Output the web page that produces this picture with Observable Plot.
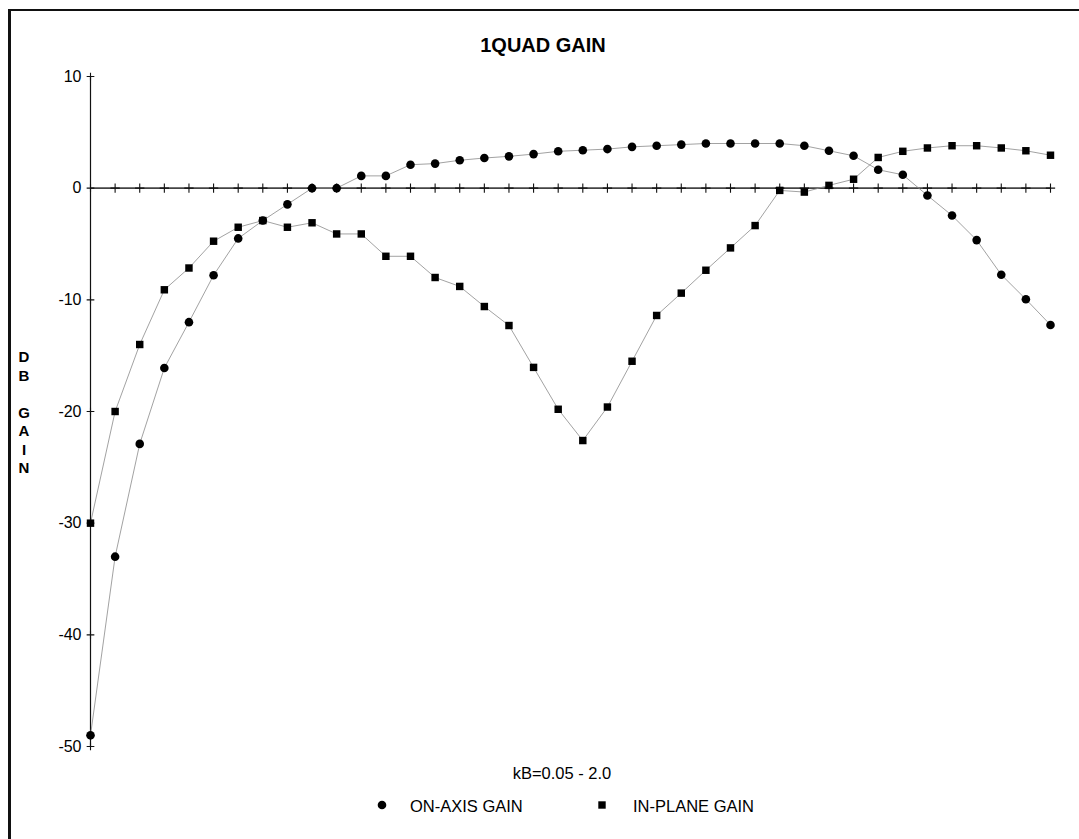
<!DOCTYPE html>
<html>
<head>
<meta charset="utf-8">
<script src="https://cdn.jsdelivr.net/npm/d3@7"></script>
<script src="https://cdn.jsdelivr.net/npm/@observablehq/plot@0.6"></script>
<style>
  html, body { margin: 0; padding: 0; background: #fff; overflow: hidden; }
  #page { position: relative; width: 1079px; height: 839px; overflow: hidden; background: #fff;
          font-family: "Liberation Sans", Arial, sans-serif; color: #000; }
  #frame { position: absolute; left: 8px; top: 9px; width: 1100px; height: 900px;
           border-top: 2px solid #111; border-left: 3px solid #111; }
  #chart { position: absolute; left: 0; top: 0; }
  .txt { position: absolute; line-height: 1; white-space: nowrap; }
  #title { left: 0; width: 1086px; text-align: center; top: 35px; font-size: 20px; font-weight: bold; }
  #xlabel { left: 462px; width: 200px; text-align: center; top: 765px; font-size: 16.5px; }
  #ylabel { position: absolute; left: 13px; width: 22px; top: 348px; font-size: 15px; font-weight: bold;
            line-height: 18.5px; text-align: center; }
  .legtxt { top: 798px; font-size: 16.5px; }
  .legsym { position: absolute; }
</style>
</head>
<body>
<div id="page">
  <div id="frame"></div>
  <div id="chart"></div>
  <div id="title" class="txt">1QUAD GAIN</div>
  <div id="ylabel">D<br>B<br>&nbsp;<br>G<br>A<br>I<br>N</div>
  <div id="xlabel" class="txt">kB=0.05 - 2.0</div>
  <svg class="legsym" style="left:374px; top:797px" width="16" height="16"><circle cx="8" cy="8" r="4.3" fill="#000"/></svg>
  <div class="txt legtxt" style="left:410px">ON-AXIS GAIN</div>
  <svg class="legsym" style="left:594px; top:797px" width="16" height="16"><rect x="4.3" y="4.3" width="7.4" height="7.4" fill="#000"/></svg>
  <div class="txt legtxt" style="left:633px">IN-PLANE GAIN</div>
</div>
<script>
// kB values (x categories), 0.05 .. 2.0
const kB = [0.05, 0.10, 0.15, 0.20, 0.25, 0.30, 0.35, 0.40, 0.45, 0.50,
            0.55, 0.60, 0.65, 0.70, 0.75, 0.80, 0.85, 0.90, 0.95, 1.00,
            1.05, 1.10, 1.15, 1.20, 1.25, 1.30, 1.35, 1.40, 1.45, 1.50,
            1.55, 1.60, 1.65, 1.70, 1.75, 1.80, 1.85, 1.90, 1.95, 2.00];

// ON-AXIS GAIN (dB)
const onAxisGain = [-49, -33, -22.9, -16.1, -12, -7.8, -4.5, -2.9, -1.45, 0,
                    0, 1.1, 1.1, 2.1, 2.2, 2.5, 2.7, 2.85, 3.05, 3.3,
                    3.4, 3.5, 3.7, 3.8, 3.9, 4.0, 4.0, 4.0, 4.0, 3.8,
                    3.35, 2.9, 1.65, 1.2, -0.65, -2.45, -4.65, -7.75, -9.95, -12.25];

// IN-PLANE GAIN (dB)
const inPlaneGain = [-30, -20, -14, -9.1, -7.15, -4.75, -3.5, -2.9, -3.5, -3.1,
                     -4.1, -4.1, -6.1, -6.1, -8.0, -8.8, -10.6, -12.3, -16.05, -19.8,
                     -22.6, -19.6, -15.5, -11.4, -9.4, -7.35, -5.35, -3.35, -0.2, -0.35,
                     0.25, 0.8, 2.75, 3.3, 3.6, 3.8, 3.8, 3.6, 3.35, 2.95];

// y-axis tick values
const yTicks = [10, 0, -10, -20, -30, -40, -50];

const onAxis = kB.map((k, i) => ({kB: k, gain: onAxisGain[i]}));
const inPlane = kB.map((k, i) => ({kB: k, gain: inPlaneGain[i]}));
const xTickData = kB.slice(1);

const chart = Plot.plot({
  width: 1079,
  height: 760,
  marginLeft: 90,
  marginRight: 29,
  marginTop: 76,
  marginBottom: 14,
  style: {fontFamily: "'Liberation Sans', Arial, sans-serif", fontSize: "16px", background: "transparent", color: "#000"},
  x: {domain: [kB[0], kB[kB.length - 1]], axis: null},
  y: {domain: [-50, 10], axis: null},
  marks: [
    Plot.axisY({ticks: yTicks, tickSize: 0, tickPadding: 9, label: null, fontSize: 16, tickFormat: d => d}),
    Plot.frame({anchor: "left", stroke: "#111", strokeWidth: 1.2}),
    Plot.ruleY([0], {stroke: "#444", strokeWidth: 1.6}),
    Plot.dot(yTicks, {x: () => kB[0], y: d => d, symbol: "plus", r: 2.6, stroke: "#111", strokeWidth: 1.1}),
    Plot.dot(xTickData, {x: d => d, y: () => 0, symbol: "plus", r: 3.1, stroke: "#111", strokeWidth: 1.1}),
    Plot.line(onAxis, {x: "kB", y: "gain", stroke: "#8a8a8a", strokeWidth: 0.8}),
    Plot.line(inPlane, {x: "kB", y: "gain", stroke: "#8a8a8a", strokeWidth: 0.8}),
    Plot.dot(onAxis, {x: "kB", y: "gain", symbol: "circle", r: 4.3, fill: "#000"}),
    Plot.dot(inPlane, {x: "kB", y: "gain", symbol: "square", r: 4.2, fill: "#000"})
  ]
});
document.getElementById("chart").appendChild(chart);
</script>
</body>
</html>
